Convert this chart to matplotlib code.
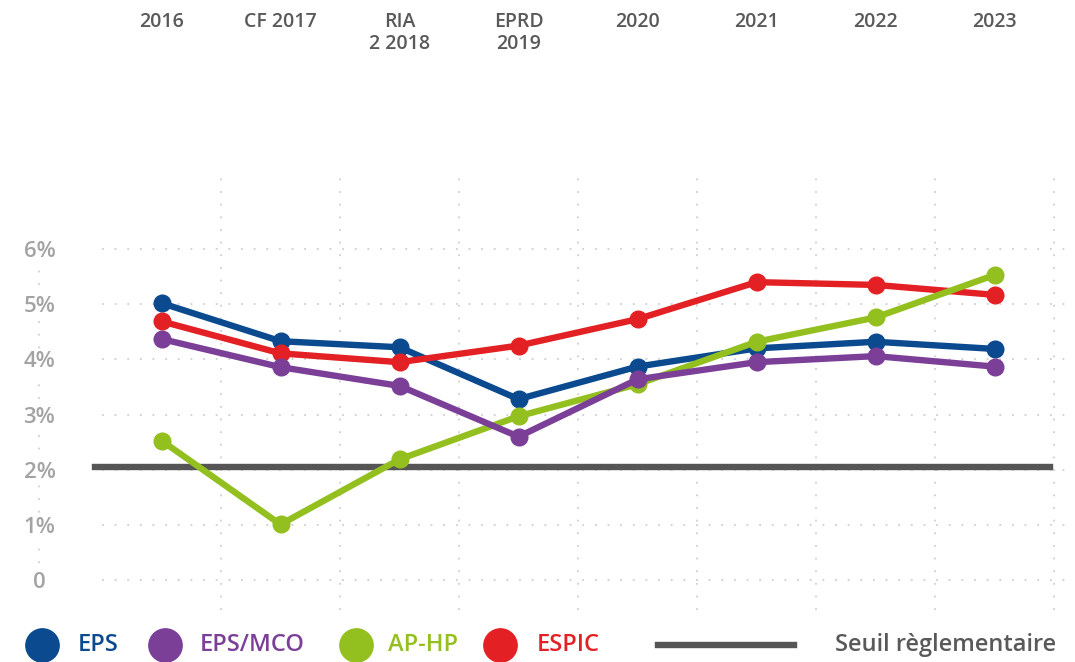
import matplotlib.pyplot as plt
import matplotlib.transforms as mtransforms
from matplotlib.lines import Line2D
import numpy as np

plt.rcParams["font.family"] = ["Open Sans", "DejaVu Sans"]

categories = ["2016", "CF 2017", "RIA\n2 2018", "EPRD\n2019", "2020", "2021", "2022", "2023"]
eps = [5.02, 4.33, 4.22, 3.28, 3.87, 4.20, 4.32, 4.19]
eps_mco = [4.37, 3.86, 3.52, 2.60, 3.64, 3.95, 4.06, 3.87]
ap_hp = [2.53, 1.01, 2.19, 2.97, 3.55, 4.32, 4.76, 5.53]
espic = [4.69, 4.11, 3.95, 4.25, 4.73, 5.40, 5.35, 5.17]
seuil = 2.05
yticks = [0, 1, 2, 3, 4, 5, 6]
ytick_labels = ["0", "1%", "2%", "3%", "4%", "5%", "6%"]

c_eps = "#0b4a8f"
c_mco = "#7b3f98"
c_aphp = "#93c01f"
c_espic = "#e32124"
c_seuil = "#555555"
grid_c = "#cfcfcf"

W, H = 1075, 662
fig = plt.figure(figsize=(W / 100, H / 100), dpi=100)
ax = fig.add_axes([102 / W, (H - 610) / H, (1066 - 102) / W, 441 / H])

x = np.arange(len(categories))
ax.set_xlim(-0.5, 7.6)
ax.set_ylim(-0.54, 7.45)

# grid
ax.set_xticks([])
ax.set_xticks(x + 0.5, minor=True)
ax.set_yticks(yticks)
ax.set_yticklabels(ytick_labels)
ax.grid(True, which="minor", axis="x", color=grid_c, lw=1.3, ls=(0, (1, 6)))
ax.grid(True, which="major", axis="y", color=grid_c, lw=1.3, ls=(0, (1, 6)))
ax.set_axisbelow(True)
for s in ax.spines.values():
    s.set_visible(False)
ax.tick_params(axis="both", which="both", length=0)
ax.tick_params(axis="y", pad=45, labelsize=16, labelcolor="#a3a3a3")
for lab in ax.get_yticklabels():
    lab.set_ha("center")
    lab.set_fontweight("semibold")
    lab.set_bbox(dict(facecolor="white", edgecolor="none", pad=1))

# dotted y axis behind labels
fig.add_artist(Line2D([39 / W, 39 / W], [(H - 258) / H, (H - 570) / H],
                      color=grid_c, lw=1.3, ls=(0, (1, 6)), zorder=0))

# threshold
ax.axhline(seuil, xmin=-0.007, xmax=0.983, color=c_seuil, lw=4.6, clip_on=False, zorder=2)

kw = dict(lw=4.6, marker="o", ms=12, solid_joinstyle="round", solid_capstyle="round")
ax.plot(x, eps, color=c_eps, zorder=3, **kw)
ax.plot(x, espic, color=c_espic, zorder=4, **kw)
ax.plot(x, ap_hp, color=c_aphp, zorder=5, **kw)
ax.plot(x, eps_mco, color=c_mco, zorder=6, **kw)

# category labels on top
trans = mtransforms.blended_transform_factory(ax.transData, fig.transFigure)
for xi, cat in zip(x, categories):
    ax.text(xi, 1 - 12 / H, cat, transform=trans, ha="center", va="top",
            fontsize=14, fontweight="semibold", color="#595959",
            multialignment="center", linespacing=1.15)

# legend
ly = (H - 645) / H
legend_items = [
    (42, 78, "EPS", c_eps),
    (165, 200, "EPS/MCO", c_mco),
    (356, 388, "AP-HP", c_aphp),
    (500, 537, "ESPIC", c_espic),
]
for cx, tx, label, col in legend_items:
    fig.add_artist(Line2D([cx / W], [ly], marker="o", ms=24, color=col, lw=0))
    fig.text(tx / W, ly, label, color=col, fontsize=17, fontweight="semibold",
             ha="left", va="center")
fig.add_artist(Line2D([658 / W, 794 / W], [ly, ly], color=c_seuil, lw=4.6))
fig.text(835 / W, ly, "Seuil règlementaire", color="#595959", fontsize=17,
         fontweight="semibold", ha="left", va="center")

fig.savefig("out.png", dpi=100, facecolor="white")
